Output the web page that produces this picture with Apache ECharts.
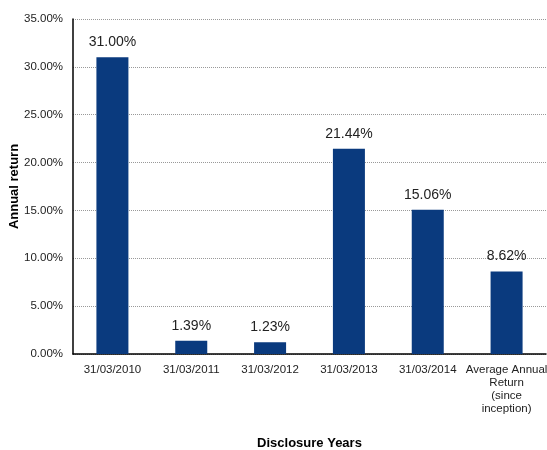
<!DOCTYPE html>
<html><head><meta charset="utf-8">
<script src="https://cdn.jsdelivr.net/npm/echarts@6/dist/echarts.min.js"></script>
<style>html,body{margin:0;padding:0;background:#fff}#c{width:547px;height:450px}</style>
</head><body><div id="c"></div>
<script>
const categories = ["31/03/2010","31/03/2011","31/03/2012","31/03/2013","31/03/2014","Average Annual\nReturn\n(since\ninception)"];
const values = [31.00, 1.39, 1.23, 21.44, 15.06, 8.62];
const yTicks = {min: 0, max: 35, interval: 5};
const font = "'Liberation Sans', Arial, sans-serif";
const chart = echarts.init(document.getElementById('c'), null, {renderer: 'canvas'});
chart.setOption({
  animation: false,
  grid: {left: 73, right: 1, top: 19, bottom: 96, containLabel: false, outerBoundsMode: 'none'},
  xAxis: {
    type: 'category', data: categories,
    name: 'Disclosure Years', nameLocation: 'middle', nameGap: 83, nameMoveOverlap: false,
    nameTextStyle: {fontFamily: font, fontWeight: 'bold', fontSize: 13, color: '#000'},
    axisLine: {lineStyle: {color: '#000', width: 1.5}},
    axisTick: {show: false},
    axisLabel: {fontFamily: font, fontSize: 11.5, color: '#222', margin: 9, lineHeight: 13, interval: 0}
  },
  yAxis: {
    type: 'value', min: yTicks.min, max: yTicks.max, interval: yTicks.interval,
    name: 'Annual return', nameLocation: 'middle', nameGap: 52, nameMoveOverlap: false,
    nameTextStyle: {fontFamily: font, fontWeight: 'bold', fontSize: 13, color: '#000'},
    axisLine: {show: true, lineStyle: {color: '#000', width: 1.5}},
    axisTick: {show: false},
    splitLine: {lineStyle: {color: '#999', type: 'dotted', width: 1}},
    axisLabel: {fontFamily: font, fontSize: 11.5, color: '#222', margin: 10,
      formatter: v => v.toFixed(2) + '%'}
  },
  series: [{
    type: 'bar', data: values, barWidth: 32,
    itemStyle: {color: '#0a3a7e'},
    label: {show: true, position: 'top', distance: 8, fontFamily: font, fontSize: 14, color: '#222',
      formatter: p => p.value.toFixed(2) + '%'}
  }]
});
</script></body></html>
